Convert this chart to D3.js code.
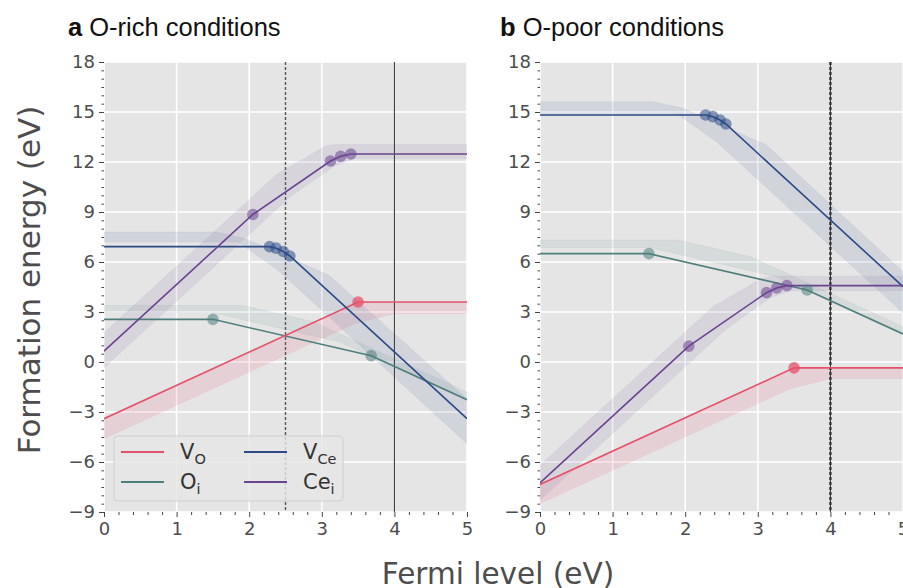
<!DOCTYPE html>
<html>
<head>
<meta charset="utf-8">
<script src="https://cdn.jsdelivr.net/npm/d3@7"></script>
<style>
  html, body { margin: 0; padding: 0; background: #ffffff; }
  svg { display: block; }
</style>
</head>
<body>
<svg id="chart" width="903" height="588"></svg>
<script>
// ---------------- DATA ----------------
const xTicks = [0, 1, 2, 3, 4, 5];
const yTicks = [-9, -6, -3, 0, 3, 6, 9, 12, 15, 18];
const xDomain = [0, 5];
const yDomain = [-9, 18];
const panelLetters = ["a", "b"];
const panelTitles = ["O-rich conditions", "O-poor conditions"];
const defectNames = ["VO", "Oi", "VCe", "Cei"];
const legendMain = ["V", "O", "V", "Ce"];
const legendSub = ["O", "i", "Ce", "i"];
const xLabel = "Fermi level (eV)";
const yLabel = "Formation energy (eV)";

// O-rich: lines [Fermi level, energy]
const richVO   = [[0, -3.4], [3.5, 3.6], [5, 3.6]];
const richOi   = [[0, 2.56], [1.5, 2.56], [3.68, 0.38], [5, -2.26]];
const richVCe  = [[0, 6.92], [2.28, 6.92], [2.37, 6.83], [2.47, 6.63], [2.56, 6.36], [5, -3.4]];
const richCei  = [[0, 0.65], [2.05, 8.85], [3.12, 12.06], [3.26, 12.34], [3.4, 12.48], [5, 12.48]];
// O-rich: transition points
const richVOpts  = [[3.5, 3.6]];
const richOipts  = [[1.5, 2.56], [3.68, 0.38]];
const richVCepts = [[2.28, 6.92], [2.37, 6.83], [2.47, 6.63], [2.56, 6.36]];
const richCeipts = [[2.05, 8.85], [3.12, 12.06], [3.26, 12.34], [3.4, 12.48]];
// O-rich: uncertainty bands (upper, lower edges)
const richVOhi  = [[0, -3.45], [3.5, 3.55], [5, 3.55]];
const richVOlo  = [[0, -4.6], [3.45, 2.3], [4.0, 2.9], [5, 2.9]];
const richOihi  = [[0, 3.4], [1.9, 3.4], [2.9, 2.4], [5, -1.8]];
const richOilo  = [[0, 2.95], [1.5, 2.95], [3.25, 1.2], [5, -2.3]];
const richVCehi = [[0, 7.8], [1.55, 7.8], [1.95, 7.4], [3.1, 5.2], [5, -2.2]];
const richVCelo = [[0, 7.2], [1.85, 7.2], [2.4, 5.5], [5, -4.9]];
const richCeihi = [[0, 1.75], [2.39, 11.3], [3.05, 12.95], [3.2, 13.05], [5, 13.05]];
const richCeilo = [[0, -0.35], [2.57, 9.93], [3.17, 11.75], [3.45, 12.2], [5, 12.2]];

// O-poor: lines
const poorVO   = [[0, -7.35], [3.5, -0.35], [5, -0.35]];
const poorOi   = [[0, 6.5], [1.5, 6.5], [3.68, 4.32], [5, 1.68]];
const poorVCe  = [[0, 14.82], [2.28, 14.82], [2.38, 14.72], [2.48, 14.52], [2.56, 14.28], [5, 4.52]];
const poorCei  = [[0, -7.25], [2.05, 0.95], [3.12, 4.16], [3.26, 4.44], [3.4, 4.58], [5, 4.58]];
// O-poor: transition points
const poorVOpts  = [[3.5, -0.35]];
const poorOipts  = [[1.5, 6.5], [3.68, 4.32]];
const poorVCepts = [[2.28, 14.82], [2.38, 14.72], [2.48, 14.52], [2.56, 14.28]];
const poorCeipts = [[2.05, 0.95], [3.12, 4.16], [3.26, 4.44], [3.4, 4.58]];
// O-poor: bands
const poorVOhi  = [[0, -7.35], [3.5, -0.35], [5, -0.35]];
const poorVOlo  = [[0, -8.5], [3.45, -1.6], [4.0, -1.0], [5, -1.0]];
const poorOihi  = [[0, 7.32], [1.9, 7.32], [2.9, 6.32], [5, 2.12]];
const poorOilo  = [[0, 6.87], [1.5, 6.87], [3.25, 5.12], [5, 1.62]];
const poorVCehi = [[0, 15.62], [1.56, 15.62], [1.97, 15.22], [3.12, 13.02], [5, 5.42]];
const poorVCelo = [[0, 14.92], [1.88, 14.92], [2.43, 13.22], [5, 2.95]];
const poorCeihi = [[0, -6.2], [2.39, 3.35], [3.05, 5.0], [3.2, 5.15], [5, 5.15]];
const poorCeilo = [[0, -8.3], [2.57, 2.0], [3.17, 3.85], [3.45, 4.28], [5, 4.28]];

// reference lines (Fermi level positions)
const richDashed = [2.5];
const richSolid = [4];
const poorDashed = [4];
const poorSolid = [4];

// ---------------- STYLE ----------------
const colors = { VO: "#e5506a", Oi: "#4f7f7d", VCe: "#2b4a86", Cei: "#6a448f" };
const W = 903, H = 588;
const plotTop = 62, plotBottom = 512, plotW = 363;
const panelLeft = [104, 540];
const titleX = [68, 500];

const panels = [
  { lines: { VO: richVO, Oi: richOi, VCe: richVCe, Cei: richCei },
    pts:   { VO: richVOpts, Oi: richOipts, VCe: richVCepts, Cei: richCeipts },
    hi:    { VO: richVOhi, Oi: richOihi, VCe: richVCehi, Cei: richCeihi },
    lo:    { VO: richVOlo, Oi: richOilo, VCe: richVCelo, Cei: richCeilo },
    dashed: richDashed, solid: richSolid, legend: true },
  { lines: { VO: poorVO, Oi: poorOi, VCe: poorVCe, Cei: poorCei },
    pts:   { VO: poorVOpts, Oi: poorOipts, VCe: poorVCepts, Cei: poorCeipts },
    hi:    { VO: poorVOhi, Oi: poorOihi, VCe: poorVCehi, Cei: poorCeihi },
    lo:    { VO: poorVOlo, Oi: poorOilo, VCe: poorVCelo, Cei: poorCeilo },
    dashed: poorDashed, solid: poorSolid, legend: false }
];

const svg = d3.select("#chart");
const y = d3.scaleLinear().domain(yDomain).range([plotBottom, plotTop]);

// merge two polylines into a band polygon using a common x grid
function bandPoly(hi, lo) {
  const xs = Array.from(new Set(hi.map(d => d[0]).concat(lo.map(d => d[0])))).sort((a, b) => a - b);
  const interp = (arr, xv) => {
    for (let i = 0; i < arr.length - 1; i++) {
      const [x0, y0] = arr[i], [x1, y1] = arr[i + 1];
      if (xv >= x0 && xv <= x1) return y0 + (y1 - y0) * (xv - x0) / (x1 - x0);
    }
    return arr[arr.length - 1][1];
  };
  return xs.map(xv => ({ x: xv, hi: interp(hi, xv), lo: interp(lo, xv) }));
}

panels.forEach((p, pi) => {
  const x0 = panelLeft[pi];
  const x = d3.scaleLinear().domain(xDomain).range([x0, x0 + plotW]);
  const g = svg.append("g");

  const clipId = "clip" + pi;
  svg.append("clipPath").attr("id", clipId)
    .append("rect").attr("x", x0).attr("y", plotTop).attr("width", plotW).attr("height", plotBottom - plotTop);

  // background
  g.append("rect").attr("x", x0).attr("y", plotTop).attr("width", plotW).attr("height", plotBottom - plotTop)
    .attr("fill", "#e5e5e5");

  // grid
  g.selectAll(".gx").data(xTicks).enter().append("line")
    .attr("x1", d => x(d)).attr("x2", d => x(d)).attr("y1", plotTop).attr("y2", plotBottom)
    .attr("stroke", "#ffffff").attr("stroke-width", 1.6);
  g.selectAll(".gy").data(yTicks).enter().append("line")
    .attr("x1", x0).attr("x2", x0 + plotW).attr("y1", d => y(d)).attr("y2", d => y(d))
    .attr("stroke", "#ffffff").attr("stroke-width", 1.6);

  const inner = g.append("g").attr("clip-path", "url(#" + clipId + ")");

  // bands
  const area = d3.area().x(d => x(d.x)).y0(d => y(d.lo)).y1(d => y(d.hi));
  defectNames.forEach(k => {
    inner.append("path").datum(bandPoly(p.hi[k], p.lo[k]))
      .attr("d", area)
      .attr("fill", colors[k]).attr("fill-opacity", k === "VO" ? 0.13 : 0.1)
      .attr("stroke", colors[k]).attr("stroke-opacity", 0.06).attr("stroke-width", 1);
  });

  // vertical reference lines
  p.dashed.forEach(v => {
    inner.append("line").attr("x1", x(v)).attr("x2", x(v)).attr("y1", plotTop).attr("y2", plotBottom)
      .attr("stroke", "#555").attr("stroke-width", pi === 1 ? 2.6 : 1.4).attr("stroke-dasharray", "3,2");
  });
  p.solid.forEach(v => {
    inner.append("line").attr("x1", x(v)).attr("x2", x(v)).attr("y1", plotTop).attr("y2", plotBottom)
      .attr("stroke", "#2a2a2a").attr("stroke-width", 1);
  });

  // lines
  const line = d3.line().x(d => x(d[0])).y(d => y(d[1]));
  ["Oi", "VO", "VCe", "Cei"].forEach(k => {
    inner.append("path").datum(p.lines[k]).attr("d", line)
      .attr("fill", "none").attr("stroke", colors[k]).attr("stroke-width", 1.6);
  });

  // points
  defectNames.forEach(k => {
    inner.selectAll(".pt" + k).data(p.pts[k]).enter().append("circle")
      .attr("cx", d => x(d[0])).attr("cy", d => y(d[1])).attr("r", 5.8)
      .attr("fill", colors[k]).attr("fill-opacity", k === "VO" ? 0.75 : 0.55);
  });

  // axes ticks
  const tickCol = "#444";
  const xMinor = d3.range(0, 5.0001, 0.2).filter(v => Math.abs(v - Math.round(v)) > 1e-6);
  const yMinor = d3.range(-9, 18.0001, 0.5).filter(v => Math.abs(v / 3 - Math.round(v / 3)) > 1e-6);
  const ax = g.append("g").attr("transform", `translate(0,${plotBottom})`)
    .call(d3.axisBottom(x).tickValues(xTicks).tickFormat(d3.format("d")).tickSize(5).tickPadding(5));
  ax.select(".domain").remove();
  ax.selectAll("line").attr("stroke", tickCol);
  ax.selectAll("text").attr("font-family", "DejaVu Sans").attr("font-size", 18).attr("fill", "#4d4d4d");
  const axm = g.append("g").attr("transform", `translate(0,${plotBottom})`)
    .call(d3.axisBottom(x).tickValues(xMinor).tickFormat("").tickSize(3));
  axm.select(".domain").remove();
  axm.selectAll("line").attr("stroke", tickCol);

  const minusFmt = d => (d < 0 ? "\u2212" + Math.abs(d) : String(d));
  const ay = g.append("g").attr("transform", `translate(${x0},0)`)
    .call(d3.axisLeft(y).tickValues(yTicks).tickFormat(minusFmt).tickSize(5).tickPadding(4));
  ay.select(".domain").remove();
  ay.selectAll("line").attr("stroke", tickCol);
  ay.selectAll("text").attr("font-family", "DejaVu Sans").attr("font-size", 18).attr("fill", "#4d4d4d");
  const aym = g.append("g").attr("transform", `translate(${x0},0)`)
    .call(d3.axisLeft(y).tickValues(yMinor).tickFormat("").tickSize(2.5));
  aym.select(".domain").remove();
  aym.selectAll("line").attr("stroke", tickCol);

  // title
  const t = svg.append("text").attr("x", titleX[pi]).attr("y", 36)
    .attr("font-family", "Liberation Sans, Arial, sans-serif").attr("font-size", 25.5).attr("fill", "#111");
  t.append("tspan").attr("font-weight", "bold").text(panelLetters[pi]);
  t.append("tspan").text(" " + panelTitles[pi]);

  // legend
  if (p.legend) {
    const lg = svg.append("g");
    lg.append("rect").attr("x", 114).attr("y", 436).attr("width", 229).attr("height", 65).attr("rx", 4)
      .attr("fill", "#e5e5e5").attr("fill-opacity", 0.82).attr("stroke", "#cfcfcf").attr("stroke-width", 1);
    const pos = [[121, 452], [121, 482], [244, 452], [244, 482]];
    const order = ["VO", "Oi", "VCe", "Cei"];
    const idx = { VO: 0, Oi: 1, VCe: 2, Cei: 3 };
    order.forEach((k, i) => {
      const [lx, ly] = pos[i];
      lg.append("line").attr("x1", lx).attr("x2", lx + 43).attr("y1", ly).attr("y2", ly)
        .attr("stroke", colors[k]).attr("stroke-width", 2);
      const tx = lg.append("text").attr("x", lx + 59).attr("y", ly + 7)
        .attr("font-family", "DejaVu Sans").attr("font-size", 21).attr("fill", "#333");
      tx.append("tspan").text(legendMain[idx[k]]);
      tx.append("tspan").attr("font-size", 14.5).attr("dy", 5).text(legendSub[idx[k]]);
    });
  }
});

// axis labels
svg.append("text").attr("x", 498).attr("y", 584).attr("text-anchor", "middle")
  .attr("font-family", "DejaVu Sans").attr("font-size", 29.5).attr("fill", "#4d4d4d").text(xLabel);
svg.append("text").attr("transform", "translate(40,280) rotate(-90)").attr("text-anchor", "middle")
  .attr("font-family", "DejaVu Sans").attr("font-size", 31).attr("fill", "#4d4d4d").text(yLabel);
</script>
</body>
</html>
